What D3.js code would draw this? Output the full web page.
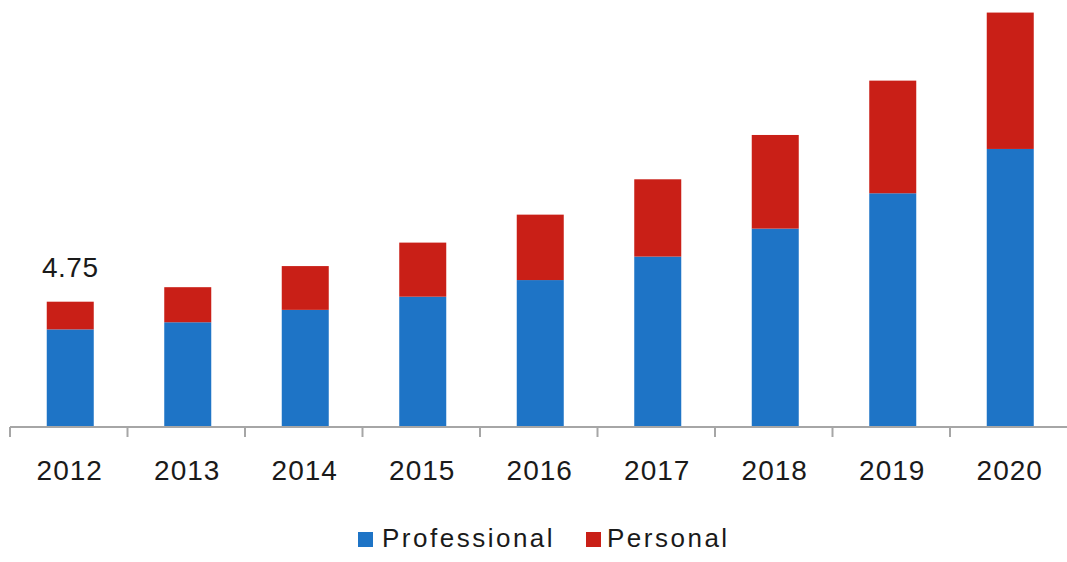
<!DOCTYPE html>
<html>
<head>
<meta charset="utf-8">
<script src="https://cdn.jsdelivr.net/npm/d3@7"></script>
<style>
  body { margin: 0; background: #fff; }
  text { font-family: "Liberation Sans", Arial, sans-serif; fill: #1a1a1a; }
</style>
</head>
<body>
<script>
const years = ["2012", "2013", "2014", "2015", "2016", "2017", "2018", "2019", "2020"];
const professional = [3.70, 3.97, 4.44, 4.94, 5.57, 6.46, 7.52, 8.86, 10.54];
const personal = [1.05, 1.33, 1.66, 2.05, 2.48, 2.93, 3.55, 4.27, 5.17];
const seriesNames = ["Professional", "Personal"];
const colors = ["#1e74c6", "#c91f17"];
const firstLabel = "4.75";

const width = 1067, height = 562;
const margin = {top: 5, left: 10, right: 0, bottom: 135};

let svg = d3.select("body").append("svg")
    .attr("width", width)
    .attr("height", height);

// one table row per year
const table = years.map((y, i) => ({year: y, Professional: professional[i], Personal: personal[i]}));
const stacked = d3.stack().keys(seriesNames)(table);

const x = d3.scaleBand().domain(years).range([margin.left, width + 0.5]).paddingInner(0).paddingOuter(0);
const y = d3.scaleLinear().domain([0, 16]).range([427, 427 - 16 * 26.38]);

const barW = 47;

svg.selectAll("g.series")
    .data(stacked)
  .enter().append("g")
    .attr("class", "series")
    .attr("fill", (d, i) => colors[i])
  .selectAll("rect")
    .data(d => d)
  .enter().append("rect")
    .attr("x", d => x(d.data.year) + x.bandwidth() / 2 - barW / 2 + 1.5)
    .attr("width", barW)
    .attr("y", d => y(d[1]))
    .attr("height", d => y(d[0]) - y(d[1]));

// x axis: line with ticks at band edges
const axis = svg.append("g").attr("transform", "translate(0,427)");
axis.append("line")
    .attr("x1", margin.left).attr("x2", width)
    .attr("stroke", "#a6a6a6").attr("stroke-width", 2);
axis.selectAll("line.tick")
    .data(years)
  .enter().append("line")
    .attr("class", "tick")
    .attr("x1", d => x(d)).attr("x2", d => x(d))
    .attr("y1", 0).attr("y2", 10)
    .attr("stroke", "#a6a6a6").attr("stroke-width", 2);

svg.selectAll("text.year")
    .data(years)
  .enter().append("text")
    .attr("class", "year")
    .attr("x", d => x(d) + x.bandwidth() / 2 + 1)
    .attr("y", 480)
    .attr("text-anchor", "middle")
    .style("font-size", "28px")
    .style("letter-spacing", "1px")
    .text(d => d);

// value label on the first bar
svg.append("text")
    .attr("x", x(years[0]) + x.bandwidth() / 2 + 1.5)
    .attr("y", y(professional[0] + personal[0]) - 25)
    .attr("text-anchor", "middle")
    .style("font-size", "28px")
    .style("letter-spacing", "0.5px")
    .text(firstLabel);

// legend
const legendX = [358, 586];
const legend = svg.selectAll("g.legend")
    .data(seriesNames)
  .enter().append("g")
    .attr("class", "legend")
    .attr("transform", (d, i) => "translate(" + legendX[i] + ",532)");
legend.append("rect")
    .attr("width", 15).attr("height", 15)
    .attr("fill", (d, i) => colors[i]);
legend.append("text")
    .attr("x", (d, i) => i === 0 ? 24 : 21)
    .attr("y", 15)
    .style("font-size", "26px")
    .style("letter-spacing", "2.5px")
    .text(d => d);
</script>
</body>
</html>
